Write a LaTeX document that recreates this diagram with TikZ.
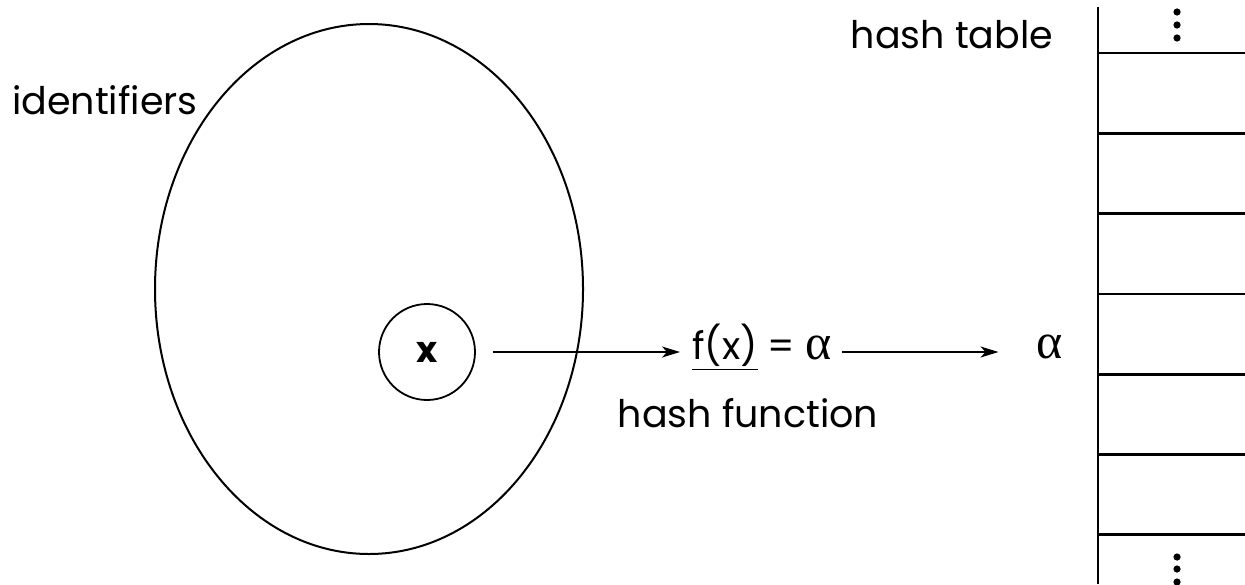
\documentclass[tikz,border=0pt]{standalone}
\usepackage{fontspec}
\setmainfont{Poppins}
\newfontfamily\greekfont{Liberation Serif}
\usepackage{tikz}
\usetikzlibrary{arrows.meta,shapes.geometric,positioning}

\tikzset{
  lbl/.style={font=\fontsize{19}{22}\selectfont, inner sep=0pt},
  maparrow/.style={-{Stealth[length=9pt,width=5.5pt,inset=2.5pt]}, line width=0.9pt},
  slot/.style={line width=1.4pt},
}
\newcommand{\galpha}{{\greekfont\fontsize{25}{25}\selectfont α}}

\begin{document}
\begin{tikzpicture}[x=0.5pt,y=-0.5pt]
    \useasboundingbox (0,0) rectangle (1245,584);
    % Set of identifiers with one element x
    \node[draw, ellipse, line width=1pt, minimum width=214pt, minimum height=265pt,
          inner sep=0pt] (ids) at (369,289) {};
    \node[lbl] (idslbl) at (105,100) {identifiers};
    \node[draw, circle, line width=0.9pt, minimum size=48pt, inner sep=0pt,
          font=\fontsize{18}{20}\selectfont\bfseries] (x) at (427,352) {x};
    % Hash function
    \node[lbl, anchor=west] (fx) at (692,347) {\underline{f(x)} = \galpha};
    \node[lbl] (hf) at (748,413) {hash function};
    \node[lbl] (alpha) at (1050,347) {\galpha};
    \draw[maparrow, shorten <=8.5pt, shorten >=6pt] (x.east) -- (x.east -| fx.west);
    \draw[maparrow, shorten <=5pt, shorten >=19pt] (fx.east |- x.east) -- (alpha.west |- x.east);
    % Hash table
    \def\tx{1098}  % left side of table
    \draw[slot] (\tx,7) -- (\tx,584);
    \foreach \k in {0,...,6} {
      \draw[slot] (\tx,53+\k*80.3) -- (1245,53+\k*80.3);
    }
    \foreach \yy in {12,25,38,557,569,582} {
      \fill (1177,\yy) circle (3.6);
    }
    \node[lbl] (htlbl) at (952,35) {hash table};
\end{tikzpicture}
\end{document}
